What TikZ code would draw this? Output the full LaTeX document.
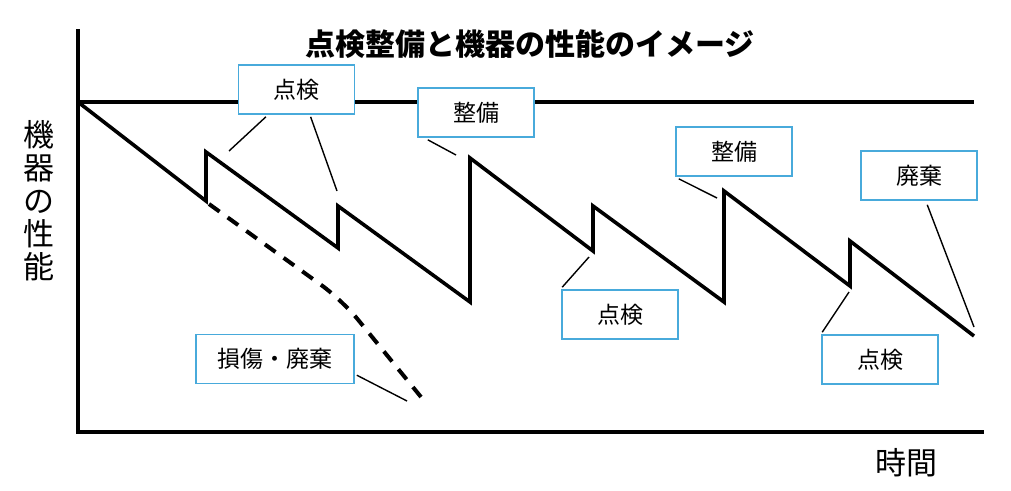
\documentclass[tikz,border=0pt]{standalone}
\usepackage{fontspec}
\usetikzlibrary{calc}
\newfontfamily\jpfont{Noto Sans CJK JP}
\definecolor{boxblue}{RGB}{72,170,219}
\begin{document}
\begin{tikzpicture}[x=1pt,y=-1pt,
    tag/.style={draw=boxblue,line width=1.6pt,fill=white,minimum width=116pt,
                minimum height=49pt,inner sep=0pt,font=\jpfont\fontsize{23}{23}\selectfont},
    leader/.style={line width=1.4pt},
    curve/.style={line width=3.6pt,line join=miter}]
       \useasboundingbox (0,0) rectangle (1011,490);

       % Axes and the level of a new machine
       \draw[curve] (78,29) -- (78,432) -- (984,432);
       \draw[curve] (78,102) -- (974,102);

       % Performance over time, with inspection and repair
       \draw[curve] (78,102) -- (206,201) -- (206,152) -- (338,248) -- (338,206)
             -- (470,302) -- (470,158) -- (593,251) -- (593,206) -- (724,302)
             -- (724,191) -- (850,286) -- (850,241) -- (974,336);
       % Without inspection the machine breaks down
       \draw[curve,line width=4pt,dash pattern=on 13pt off 10pt,rounded corners=25pt]
             (209,204) -- (342,300) -- (421,397);

       % Labels
       \node[font=\jpfont\bfseries\fontsize{30}{30}\selectfont] (title) at (530,44) {点検整備と機器の性能のイメージ};
       \node[font=\jpfont\fontsize{31}{33}\selectfont,align=center] (ylabel) at (39,201) {機\\器\\の\\性\\能};
       \node[font=\jpfont\fontsize{31}{31}\selectfont] (xlabel) at (906,463) {時間};

       \node[tag] (insA) at (296.5,89.5) {点検};
       \node[tag] (repA) at (476,112.5) {整備};
       \node[tag] (repB) at (734,151.5) {整備};
       \node[tag] (disp) at (919,175.5) {廃棄};
       \node[tag,minimum width=158pt] (dmg) at (275,359) {損傷・廃棄};
       \node[tag] (insB) at (620,314.5) {点検};
       \node[tag] (insC) at (880,359.5) {点検};

       % Leader lines to the curve
       \coordinate (insAtipL) at (229,151);
       \coordinate (insAtipR) at (337,191);
       \coordinate (repAtip) at (456,155);
       \coordinate (repBtip) at (717,198);
       \coordinate (disptip) at (974,327);
       \coordinate (dmgtip) at (407,401);
       \coordinate (insBtip) at (589,257);
       \coordinate (insCtip) at (849,292);
       \draw[leader] ($(insA.south west)!0.24!(insA.south east)+(0,2)$) -- (insAtipL);
       \draw[leader] ($(insA.south west)!0.62!(insA.south east)+(0,2)$) -- (insAtipR);
       \draw[leader] ($(repA.south west)!0.09!(repA.south east)+(0,2)$) -- (repAtip);
       \draw[leader] ($(repB.south west)!0.03!(repB.south east)+(0,2)$) -- (repBtip);
       \draw[leader] ($(disp.south west)!0.57!(disp.south east)+(0,4)$) -- (disptip);
       \draw[leader] ($(dmg.north east)!0.82!(dmg.south east)+(2,0)$) -- (dmgtip);
       \draw[leader] ($(insB.north west)+(1,-2)$) -- (insBtip);
       \draw[leader] ($(insC.north west)+(1,-2)$) -- (insCtip);
\end{tikzpicture}
\end{document}
